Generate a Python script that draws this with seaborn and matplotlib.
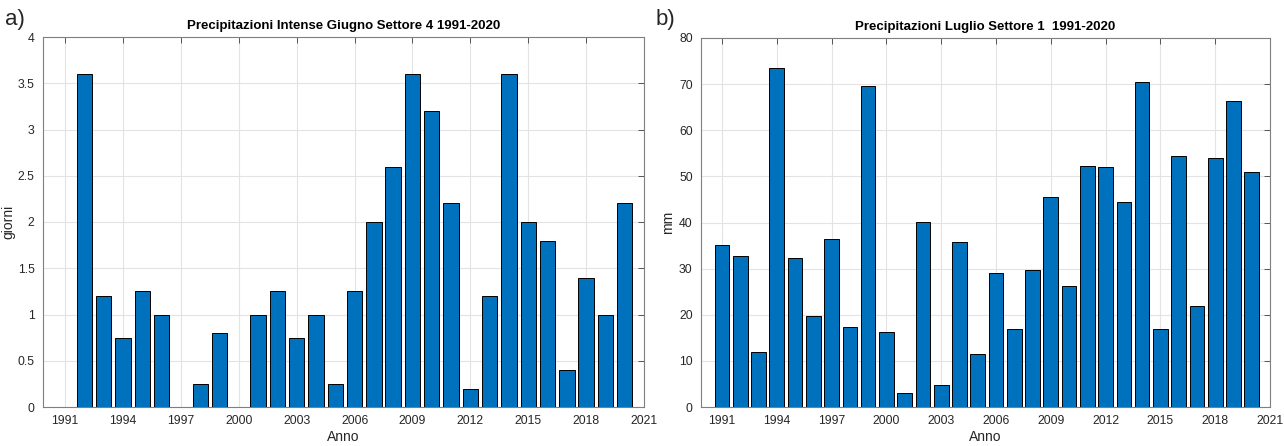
import matplotlib
matplotlib.use("Agg")
import matplotlib.pyplot as plt
import seaborn as sns
import numpy as np
import pandas as pd
from matplotlib.ticker import FuncFormatter

years = list(range(1991, 2021))
giorni = [0, 3.6, 1.2, 0.75, 1.25, 1.0, 0, 0.25, 0.8, 0, 1.0, 1.25, 0.75, 1.0, 0.25,
          1.25, 2.0, 2.6, 3.6, 3.2, 2.2, 0.2, 1.2, 3.6, 2.0, 1.8, 0.4, 1.4, 1.0, 2.2]
mm = [35.2, 32.8, 12.0, 73.5, 32.2, 19.8, 36.5, 17.4, 69.7, 16.2, 3.0, 40.2, 4.8, 35.8, 11.5,
      29.0, 17.0, 29.8, 45.5, 26.2, 52.2, 52.0, 44.5, 70.4, 16.9, 54.5, 22.0, 53.9, 66.4, 51.0]
xticks = list(range(1991, 2022, 3))
title_a = "Precipitazioni Intense Giugno Settore 4 1991-2020"
title_b = "Precipitazioni Luglio Settore 1  1991-2020"

sns.set_style("white")
plt.rcParams['font.family'] = ['Liberation Sans Narrow', 'Liberation Sans', 'DejaVu Sans']

fig = plt.figure(figsize=(12.84, 4.46), dpi=100)
ax1 = fig.add_axes([43/1284, 1-407/446, (644-43)/1284, (407-37)/446])
ax2 = fig.add_axes([701/1284, 1-407/446, (1270-701)/1284, (407-38)/446])

bar_color = "#0072BD"
txt = "#262626"

def style(ax, df, ycol, ylim, yticks, ylabel, title, ylab_x):
    sns.barplot(data=df, x="Anno", y=ycol, native_scale=True, width=0.8, color=bar_color,
                saturation=1, edgecolor="black", linewidth=0.7, ax=ax, zorder=3)
    ax.set_xlim(1989.85, 2021)
    ax.set_ylim(*ylim)
    ax.set_xticks(xticks)
    ax.set_xticklabels([str(t) for t in xticks])
    ax.set_yticks(yticks)
    ax.yaxis.set_major_formatter(FuncFormatter(lambda v, p: f"{v:g}"))
    ax.grid(True, color="#e3e3e3", linewidth=0.8, zorder=0)
    ax.set_axisbelow(True)
    ax.tick_params(direction="in", length=4, width=0.7, top=True, right=True,
                   labelsize=8.8, colors="#555555", labelcolor=txt, pad=6)
    for s in ax.spines.values():
        s.set_color("#7f7f7f")
        s.set_linewidth(0.8)
    ax.set_xlabel("Anno", fontsize=10, color=txt, labelpad=2)
    ax.set_ylabel(ylabel, fontsize=10, color=txt)
    ax.yaxis.set_label_coords(ylab_x, 0.5)
    ax.set_title(title, fontsize=9.5, fontweight="bold", color="black", pad=6)

df1 = pd.DataFrame({"Anno": years, "giorni": giorni})
df2 = pd.DataFrame({"Anno": years, "mm": mm})
style(ax1, df1, "giorni", (0, 4), np.arange(0, 4.01, 0.5), "giorni", title_a, -(43-15)/601)
style(ax2, df2, "mm", (0, 80), np.arange(0, 81, 10), "mm", title_b, -(701-675)/569)

fig.text(5/1284, 1-20/446, "a)", fontsize=16, va="center", ha="left", family=['Liberation Sans', 'DejaVu Sans'])
fig.text(656/1284, 1-20/446, "b)", fontsize=16, va="center", ha="left", family=['Liberation Sans', 'DejaVu Sans'])

fig.savefig("out.png", dpi=100)
